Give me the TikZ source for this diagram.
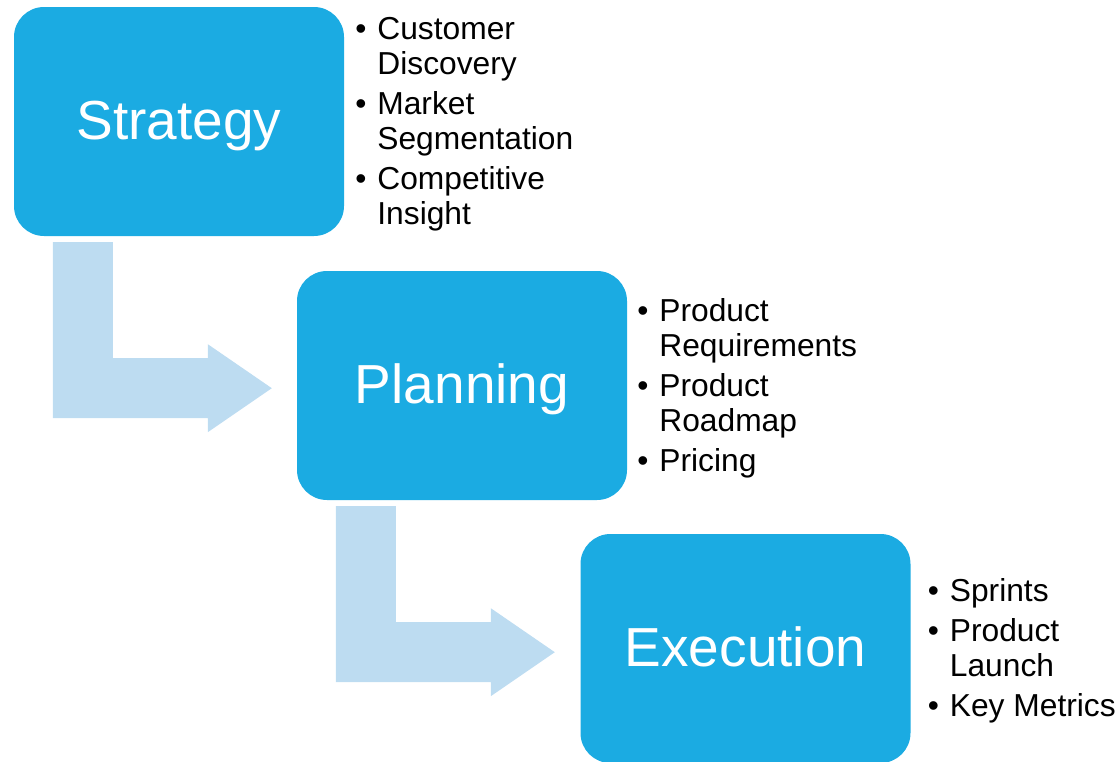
\documentclass[tikz,border=0pt]{standalone}
\usepackage{fontspec}
\setmainfont{Liberation Sans}
\usetikzlibrary{positioning}
\definecolor{stageblue}{HTML}{1BABE2}
\definecolor{flowblue}{HTML}{BDDCF1}
\newcommand{\bitem}[1]{\makebox[22pt][l]{\textbullet}#1}
\newcommand{\bcont}[1]{\hspace*{22pt}#1}
\newcommand{\stagename}[1]{\raisebox{-17.5pt}[0pt][0pt]{#1}}

\begin{document}
\begin{tikzpicture}[x=1pt,y=-1pt,
    stage/.style={fill=stageblue,rounded corners=30pt,minimum width=330pt,minimum height=229pt,
        inner sep=0pt,text=white,font=\fontsize{55}{60}\selectfont},
    notes/.style={anchor=west,align=left,inner sep=0pt,font=\fontsize{31.75}{35}\selectfont},
    bentarrow/.pic={\fill[flowblue] (0,0) -- (60,0) -- (60,116) -- (155,116) -- (155,102)
        -- (219,146) -- (155,190) -- (155,176) -- (0,176) -- cycle;}]
\useasboundingbox (0,0) rectangle (1120,761);
\clip (0,0) rectangle (1120,761);
\node[stage] (strategy) at (179,121.5) {\stagename{Strategy}};
\node[stage] (planning) at (462,385.5) {\stagename{Planning}};
\node[stage] (execution) at (745.5,648.5) {\stagename{Execution}};
\pic at ([shift={(39,6)}]strategy.south west) {bentarrow};
\pic at ([shift={(39,6)}]planning.south west) {bentarrow};
\node[notes] (strategynotes) at ([shift={(11,2.5)}]strategy.east)
    {\bitem{Customer}\\\bcont{Discovery}\\[5pt]\bitem{Market}\\\bcont{Segmentation}\\[5pt]
     \bitem{Competitive}\\\bcont{Insight}};
\node[notes] (planningnotes) at ([shift={(10,2.5)}]planning.east)
    {\bitem{Product}\\\bcont{Requirements}\\[5pt]\bitem{Product}\\\bcont{Roadmap}\\[5pt]
     \bitem{Pricing}};
\node[notes] (executionnotes) at ([shift={(17,2.5)}]execution.east)
    {\bitem{Sprints}\\[5pt]\bitem{Product}\\\bcont{Launch}\\[5pt]\bitem{Key Metrics}};
\end{tikzpicture}
\end{document}
